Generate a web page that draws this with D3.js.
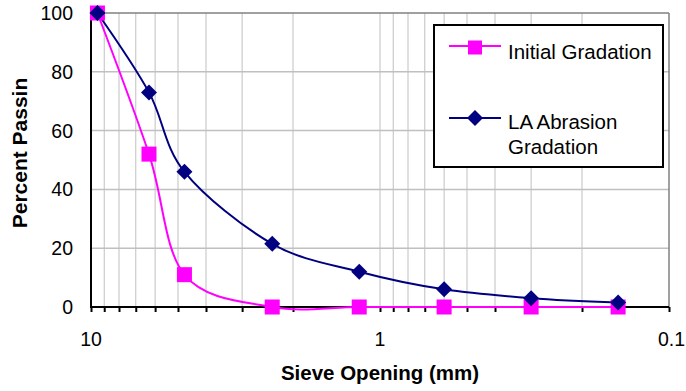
<!DOCTYPE html>
<html>
<head>
<meta charset="utf-8">
<script src="https://cdn.jsdelivr.net/npm/d3@7"></script>
<style>
  html, body { margin: 0; padding: 0; background: #fff; }
  svg { display: block; font-family: "Liberation Sans", Arial, sans-serif; }
</style>
</head>
<body>
<svg id="chart" width="686" height="391"></svg>
<script>
// Data
const sieveSizes = [9.5, 6.3, 4.75, 2.36, 1.18, 0.6, 0.3, 0.15];
const initialGradation = [100, 52, 11, 0, 0, 0, 0, 0];
const laAbrasionGradation = [100, 73, 46, 21.5, 12, 6, 3, 1.5];
const yTicks = [0, 20, 40, 60, 80, 100];
const xTickLabels = [10, 1, 0.1];
const seriesNames = ["Initial Gradation", ["LA Abrasion", "Gradation"]];

(function () {
const svg = d3.select("#chart");
const pLeft = 91, pRight = 669, pTop = 13, pBottom = 307;

const x = d3.scaleLog().domain([10, 0.1]).range([pLeft, pRight]);
const y = d3.scaleLinear().domain([0, 100]).range([pBottom, pTop]);

// tick values on log axis (10 .. 0.1)
const allX = [10];
[1, 0.1].forEach(d => {
  for (let m = 9; m >= 1; m--) allX.push(+(m * d).toPrecision(3));
});

// vertical grid
svg.append("g").selectAll("line").data(allX.filter(v => v < 10 && v > 0.1)).join("line")
  .attr("x1", d => x(d)).attr("x2", d => x(d))
  .attr("y1", pTop).attr("y2", pBottom)
  .attr("stroke", "#c0c0c0").attr("stroke-width", 1);

// horizontal grid
svg.append("g").selectAll("line").data(yTicks.filter(v => v > 0 && v < 100)).join("line")
  .attr("x1", pLeft).attr("x2", pRight)
  .attr("y1", d => y(d)).attr("y2", d => y(d))
  .attr("stroke", "#c0c0c0").attr("stroke-width", 1.5);

// top & right border
svg.append("line").attr("x1", pLeft).attr("x2", pRight).attr("y1", y(100)).attr("y2", y(100))
  .attr("stroke", "#808080").attr("stroke-width", 1.5);
svg.append("line").attr("x1", pRight).attr("x2", pRight).attr("y1", pTop).attr("y2", pBottom)
  .attr("stroke", "#808080").attr("stroke-width", 1.5);

// Bottom axis
const xAxis = d3.axisBottom(x).tickValues(allX).tickSize(5).tickFormat("");
const gx = svg.append("g").attr("transform", `translate(0,${pBottom})`).call(xAxis);
gx.select(".domain").attr("stroke", "#000").attr("stroke-width", 2).attr("d", `M${pLeft},0H${pRight}`);
gx.selectAll(".tick line").attr("stroke", "#000").attr("stroke-width", 2);

// X tick labels
svg.append("g").selectAll("text").data(xTickLabels).join("text")
  .attr("x", d => d === 0.1 ? 685 : x(d))
  .attr("y", 346)
  .attr("text-anchor", d => d === 0.1 ? "end" : "middle")
  .attr("font-size", 19.5)
  .attr("fill", "#000")
  .text(d => String(d));

// Left axis
svg.append("line").attr("x1", pLeft).attr("x2", pLeft).attr("y1", pTop).attr("y2", pBottom + 1)
  .attr("stroke", "#000").attr("stroke-width", 2);
svg.append("g").selectAll("text").data(yTicks).join("text")
  .attr("x", 73)
  .attr("y", d => y(d) + 7)
  .attr("text-anchor", "end")
  .attr("font-size", 19.5)
  .attr("fill", "#000")
  .text(d => d);

// Axis titles
svg.append("text").attr("x", (pLeft + pRight) / 2).attr("y", 380)
  .attr("text-anchor", "middle").attr("font-weight", "bold").attr("font-size", 20.5)
  .text("Sieve Opening (mm)");
svg.append("text").attr("transform", "translate(27,153) rotate(-90)")
  .attr("text-anchor", "middle").attr("font-weight", "bold").attr("font-size", 21)
  .text("Percent Passin");

// Lines
const line = d3.line().curve(d3.curveCardinal.tension(0))
  .x(d => x(d[0])).y(d => y(d[1]));
const initPts = sieveSizes.map((s, i) => [s, initialGradation[i]]);
const laPts = sieveSizes.map((s, i) => [s, laAbrasionGradation[i]]);

svg.append("path").attr("d", line(initPts)).attr("fill", "none")
  .attr("stroke", "#ff00ff").attr("stroke-width", 2);
svg.append("path").attr("d", line(laPts)).attr("fill", "none")
  .attr("stroke", "#000080").attr("stroke-width", 2);

// Markers
const sq = 15;
svg.append("g").selectAll("rect").data(initPts).join("rect")
  .attr("x", d => x(d[0]) - sq / 2).attr("y", d => y(d[1]) - sq / 2)
  .attr("width", sq).attr("height", sq).attr("fill", "#ff00ff");
const dm = 8;
svg.append("g").selectAll("path").data(laPts).join("path")
  .attr("d", d => {
    const cx = x(d[0]), cy = y(d[1]);
    return `M${cx},${cy - dm}L${cx + dm},${cy}L${cx},${cy + dm}L${cx - dm},${cy}Z`;
  })
  .attr("fill", "#000080");

// Legend
const lg = svg.append("g");
lg.append("rect").attr("x", 434).attr("y", 25).attr("width", 229).attr("height", 142)
  .attr("fill", "#fff").attr("stroke", "#000").attr("stroke-width", 2);
lg.append("line").attr("x1", 449).attr("x2", 501).attr("y1", 46).attr("y2", 46)
  .attr("stroke", "#ff00ff").attr("stroke-width", 2);
lg.append("rect").attr("x", 468).attr("y", 40.5).attr("width", 14).attr("height", 14)
  .attr("fill", "#ff00ff");
lg.append("text").attr("x", 508).attr("y", 59).attr("font-size", 20.5).text(seriesNames[0]);

lg.append("line").attr("x1", 449).attr("x2", 501).attr("y1", 118).attr("y2", 118)
  .attr("stroke", "#000080").attr("stroke-width", 2);
lg.append("path").attr("d", `M475,${118 - dm}L${475 + dm},118L475,${118 + dm}L${475 - dm},118Z`)
  .attr("fill", "#000080");
lg.append("text").attr("x", 508).attr("y", 129).attr("font-size", 20.5).text(seriesNames[1][0]);
lg.append("text").attr("x", 508).attr("y", 154).attr("font-size", 20.5).text(seriesNames[1][1]);
})();
</script>
</body>
</html>
